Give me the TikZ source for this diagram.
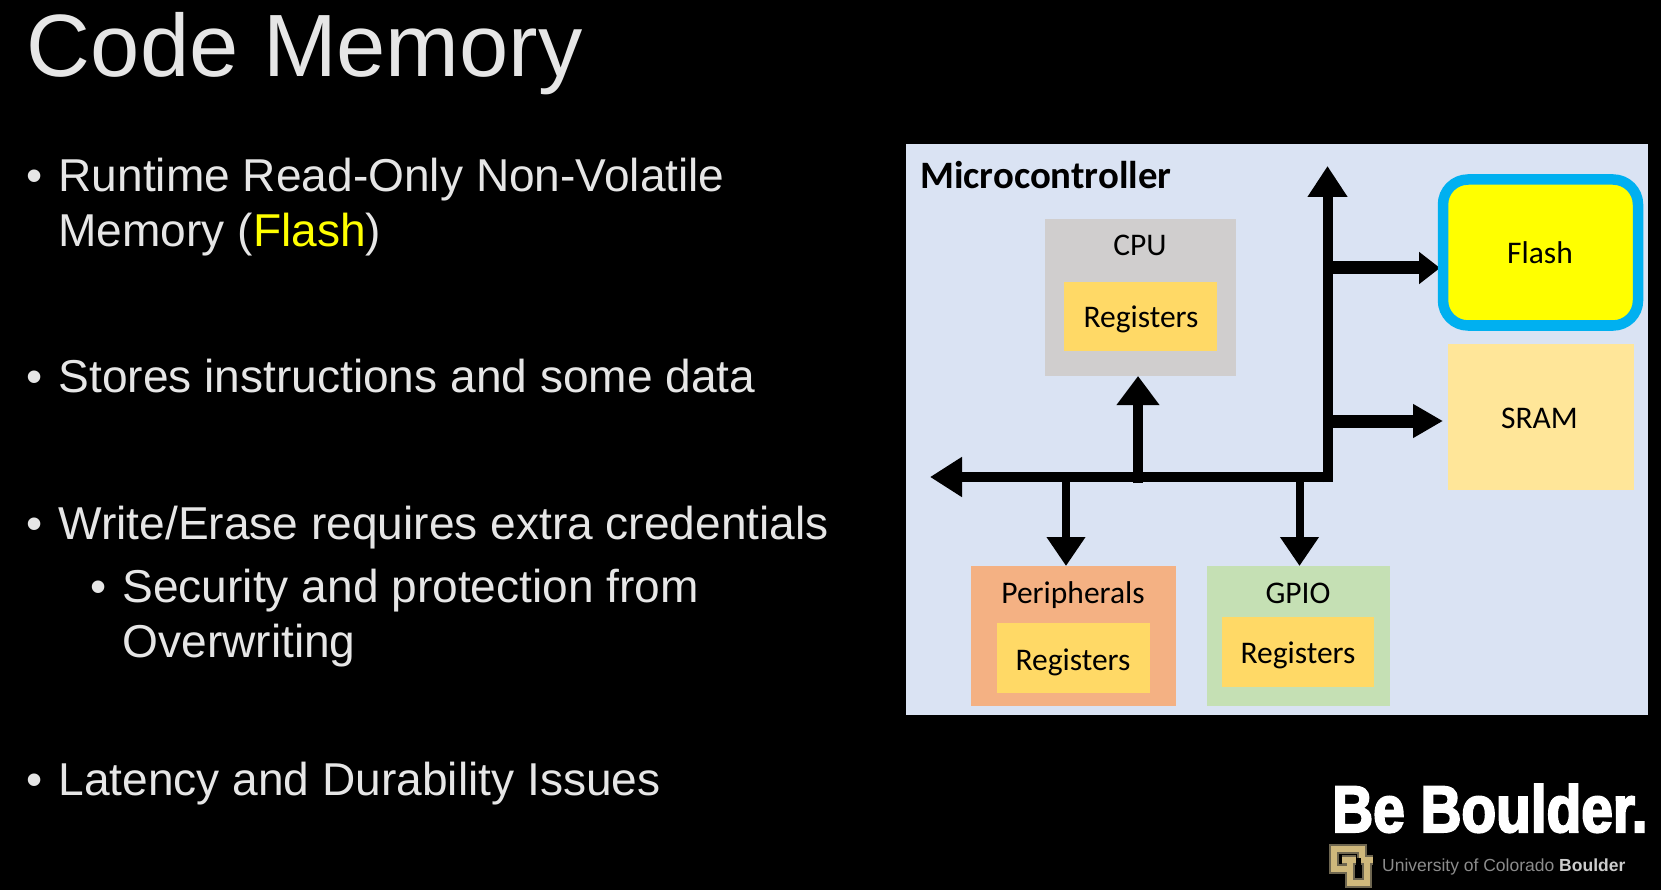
\documentclass[tikz,border=0pt]{standalone}
\usepackage{fontspec}
\setmainfont{Liberation Sans}
\newfontfamily\calibri{Carlito}
\newfontfamily\befont[FakeBold=3,FakeStretch=0.86]{Liberation Sans Bold}
\usetikzlibrary{arrows.meta}
\definecolor{slidetext}{HTML}{E6E6E6}
\definecolor{hiyellow}{HTML}{FFFF00}
\definecolor{panelblue}{HTML}{DAE3F3}
\definecolor{cpugray}{HTML}{D0CECE}
\definecolor{regyellow}{HTML}{FFD966}
\definecolor{sramyellow}{HTML}{FFE699}
\definecolor{perorange}{HTML}{F4B183}
\definecolor{gpiogreen}{HTML}{C5E0B4}
\definecolor{flashblue}{HTML}{00B0F0}
\definecolor{cugold}{HTML}{CFB87C}
\definecolor{cudark}{HTML}{6E6650}
\tikzset{
  txt/.style={anchor=base west,inner sep=0pt,outer sep=0pt,text=slidetext,font=\fontsize{46.1}{54}\selectfont},
  boxr/.style={draw=none,inner sep=0pt,outer sep=0pt,anchor=north west},
  lab/.style={anchor=base,inner sep=0pt,font=\calibri\fontsize{31.5}{38}\selectfont,text=black}
}
\begin{document}
\begin{tikzpicture}[x=1pt,y=-1pt]
\useasboundingbox (0,0) rectangle (1661,890);
\fill[black] (0,0) rectangle (1661,890);
% left text
\node[txt,font=\fontsize{88.5}{100}\selectfont] (title) at (27,77) {Code Memory};
\node[txt] (b1) at (26.5,191.5) {•};
\node[txt] (t1) at (58.5,191.5) {Runtime Read-Only Non-Volatile};
\node[txt] (t1b) at (58.5,247) {Memory (\textcolor{hiyellow}{Flash})};
\node[txt] (b2) at (26.5,392) {•};
\node[txt] (t2) at (58.5,392) {Stores instructions and some data};
\node[txt] (b3) at (26.5,539) {•};
\node[txt] (t3) at (58.5,539) {Write/Erase requires extra credentials};
\node[txt] (b4) at (90.5,602) {•};
\node[txt] (t4) at (122.5,602) {Security and protection from};
\node[txt] (t4b) at (122.5,657) {Overwriting};
\node[txt] (b5) at (26.5,795) {•};
\node[txt] (t5) at (58.5,795) {Latency and Durability Issues};
% panel
\node[boxr,fill=panelblue,minimum width=742pt,minimum height=571pt] (panel) at (906,144) {};
\node[anchor=base west,inner sep=0pt,font=\calibri\bfseries\fontsize{38.8}{46}\selectfont,text=black] (mc) at (920,189) {Microcontroller};
% boxes
\node[boxr,fill=cpugray,minimum width=191pt,minimum height=157pt] (cpu) at (1045,219) {};
\node[boxr,fill=regyellow,minimum width=153pt,minimum height=69pt] (cpureg) at (1064,282) {};
\node[boxr,fill=perorange,minimum width=205pt,minimum height=140pt] (per) at (971,566) {};
\node[boxr,fill=regyellow,minimum width=153pt,minimum height=70pt] (perreg) at (997,623) {};
\node[boxr,fill=gpiogreen,minimum width=183pt,minimum height=140pt] (gpio) at (1207,566) {};
\node[boxr,fill=regyellow,minimum width=152pt,minimum height=70pt] (gpioreg) at (1222,617) {};
\node[boxr,fill=sramyellow,minimum width=186pt,minimum height=146pt] (sram) at (1448,344) {};
% connectors
\coordinate (busL) at (930,477);
\coordinate (cornerR) at (1332.5,477);
\coordinate (cornerB) at (1327.5,482);
\coordinate (top) at (1327.5,166);
\coordinate (jflash) at (1327.5,268);
\coordinate (flashtip) at (1440,268);
\coordinate (jsram) at (1327.5,421);
\coordinate (sramtip) at (1443,421);
\coordinate (jcpu) at (1138,483);
\coordinate (jper) at (1066,480);
\coordinate (jgpio) at (1299.5,480);
\draw[line width=10pt,-{Triangle[length=32pt,width=38pt]}] (cornerR) -- (busL);
\draw[line width=10pt,-{Triangle[length=31pt,width=38pt]}] (cornerB) -- (top);
\draw[line width=13pt,-{Triangle[length=21pt,width=31pt]}] (jflash) -- (flashtip);
\draw[line width=13pt,-{Triangle[length=30pt,width=32pt]}] (jsram) -- (sramtip);
\draw[line width=10pt,-{Triangle[length=29pt,width=41pt]}] (jcpu) -- (jcpu |- cpu.south);
\draw[line width=8pt,-{Triangle[length=29pt,width=37pt]}] (jper) -- (jper |- per.north);
\draw[line width=8pt,-{Triangle[length=29pt,width=37pt]}] (jgpio) -- (jgpio |- gpio.north);
% flash on top
\node[boxr,fill=hiyellow,draw=flashblue,line width=10.5pt,rounded corners=25pt,minimum width=195pt,minimum height=146pt] (flash) at (1443,179.5) {};
% labels
\node[lab] (lcpu) at (1140,256) {CPU};
\node[lab] (lcpureg) at (1141,327) {Registers};
\node[lab] (lper) at (1073,603) {Peripherals};
\node[lab] (lperreg) at (1073,670) {Registers};
\node[lab] (lgpio) at (1298,603) {GPIO};
\node[lab] (lgpioreg) at (1298,663.5) {Registers};
\node[lab] (lflash) at (1540,264) {Flash};
\node[lab] (lsram) at (1539.5,428) {SRAM};
% logo
\node[anchor=base west,inner sep=0pt,text=white,font=\befont\fontsize{66}{70}\selectfont] (bb) at (1332,832) {Be Boulder.};
\node[anchor=base west,inner sep=0pt,text=gray!90,font=\fontsize{17.5}{20}\selectfont] (uni) at (1382,871) {University of Colorado \textbf{\textcolor{white!80!black}{Boulder}}};
\begin{scope}[line cap=butt,line join=miter]
\foreach \c/\w in {cudark/10pt,cugold/6pt}{
\draw[\c,line width=\w] (1362,858) -- (1362,849) -- (1334,849) -- (1334,869) -- (1351,869);
\draw[\c,line width=\w] (1342,860) -- (1356,860);
\draw[\c,line width=\w] (1361,860) -- (1373,860);
\draw[\c,line width=\w] (1350,860) -- (1350,883) -- (1367,883) -- (1367,860);
}
\end{scope}
\end{tikzpicture}
\end{document}
